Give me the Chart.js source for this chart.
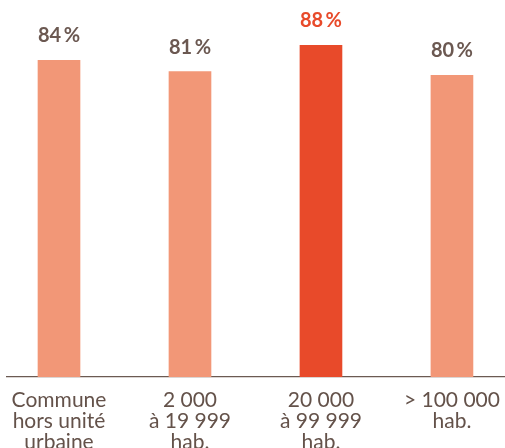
<!DOCTYPE html>
<html>
<head>
<meta charset="utf-8">
<script src="https://cdn.jsdelivr.net/npm/chart.js@4"></script>
<style>
  body { margin: 0; background: #fff; }
  #wrap { width: 505px; height: 448px; }
</style>
</head>
<body>
<div id="wrap"><canvas id="graphique"></canvas></div>
<script>
// données
const categories = [
  ["Commune", "hors unité", "urbaine"],
  ["2 000", "à 19 999", "hab."],
  ["20 000", "à 99 999", "hab."],
  ["> 100 000", "hab."]
];
const valeurs = [84, 81, 88, 80];
const indexFort = 2;

const clair = '#f29777';
const fort = '#e84a2a';
const brun = '#64524a';

// étiquettes au-dessus des barres
const etiquettes = {
  id: 'etiquettes',
  afterDatasetsDraw(chart) {
    const ctx = chart.ctx;
    const meta = chart.getDatasetMeta(0);
    ctx.save();
    ctx.font = 'bold 20px Lato';
    ctx.textAlign = 'center';
    ctx.textBaseline = 'alphabetic';
    meta.data.forEach((bar, i) => {
      ctx.fillStyle = i === indexFort ? fort : '#6b5851';
      ctx.fillText(valeurs[i] + '\u2009%', bar.x, bar.y - 18);
    });
    ctx.restore();
  }
};

new Chart(document.getElementById('graphique'), {
  type: 'bar',
  data: {
    datasets: [{
      data: valeurs.map((v, i) => ({ x: i, y: v })),
      backgroundColor: valeurs.map((v, i) => i === indexFort ? fort : clair),
      barThickness: 42
    }]
  },
  options: {
    responsive: true,
    maintainAspectRatio: false,
    animation: false,
    layout: { padding: { left: 7, right: 0, top: 0, bottom: 0 } },
    plugins: { legend: { display: false }, tooltip: { enabled: false } },
    scales: {
      x: {
        type: 'linear',
        offset: false,
        min: -0.397,
        max: 3.405,
        grid: { display: false, offset: false },
        border: { display: true, color: '#6b5a52', width: 1.3 },
        afterBuildTicks: s => { s.ticks = categories.map((c, i) => ({ value: i })); },
        afterFit: s => { s.height = 71; },
        ticks: {
          autoSkip: false,
          maxRotation: 0,
          padding: 5,
          color: brun,
          font: { family: 'Lato', size: 21, lineHeight: 1.0 },
          callback: v => categories[v] || ''
        }
      },
      y: { display: false, min: 0, max: 100 }
    }
  },
  plugins: [etiquettes]
});
</script>
</body>
</html>
